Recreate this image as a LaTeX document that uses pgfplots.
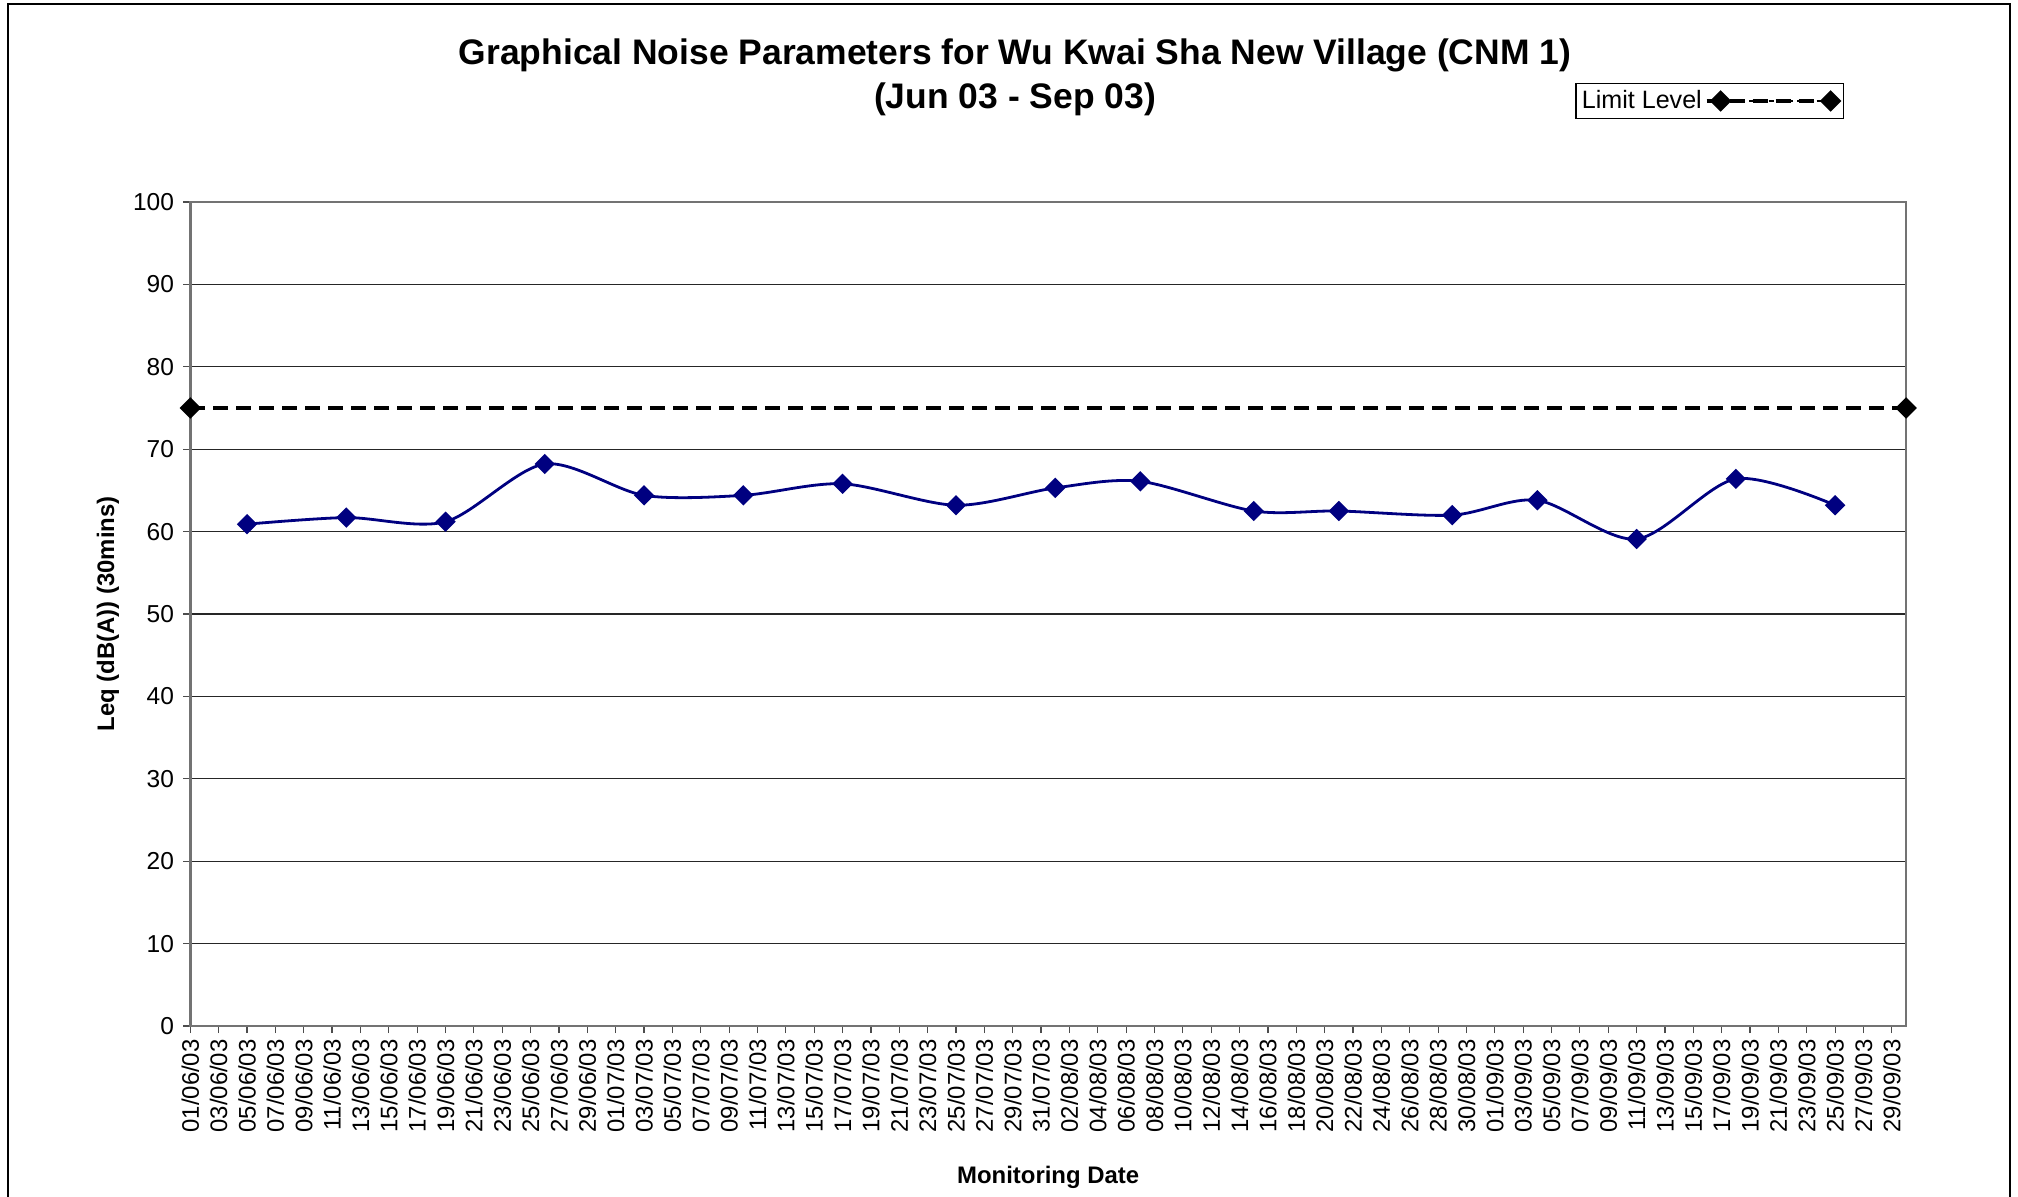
\documentclass[border=0pt]{standalone}
\usepackage{pgfplots}
\pgfplotsset{compat=1.18}
\usepackage{fontspec}
\setmainfont{Liberation Sans}
\setsansfont{Liberation Sans}
\definecolor{navyblue}{RGB}{0,0,128}
\begin{document}
\begin{tikzpicture}
\useasboundingbox (0bp,0bp) rectangle (1009bp,598.5bp);
\draw[black, line width=1bp] (4.2bp,-20bp) rectangle (1005bp,596.5bp);
\node[font=\bfseries\fontsize{17.8}{20}\selectfont] at (507.5bp,570.8bp) {Graphical Noise Parameters for Wu Kwai Sha New Village (CNM 1)};
\node[font=\bfseries\fontsize{17.8}{20}\selectfont] at (507.5bp,549bp) {(Jun 03 - Sep 03)};
\begin{axis}[
  at={(95.15bp,85.5bp)}, anchor=south west,
  scale only axis, width=857.85bp, height=412bp,
  xmin=0, xmax=121, ymin=0, ymax=100,
  clip=false,
  xtick={0,2,...,120},
  xticklabels={01/06/03,03/06/03,05/06/03,07/06/03,09/06/03,11/06/03,13/06/03,15/06/03,17/06/03,19/06/03,21/06/03,23/06/03,25/06/03,27/06/03,29/06/03,
  01/07/03,03/07/03,05/07/03,07/07/03,09/07/03,11/07/03,13/07/03,15/07/03,17/07/03,19/07/03,21/07/03,23/07/03,25/07/03,27/07/03,29/07/03,31/07/03,
  02/08/03,04/08/03,06/08/03,08/08/03,10/08/03,12/08/03,14/08/03,16/08/03,18/08/03,20/08/03,22/08/03,24/08/03,26/08/03,28/08/03,30/08/03,
  01/09/03,03/09/03,05/09/03,07/09/03,09/09/03,11/09/03,13/09/03,15/09/03,17/09/03,19/09/03,21/09/03,23/09/03,25/09/03,27/09/03,29/09/03},
  xticklabel style={rotate=90, anchor=east, font=\fontsize{12}{14}\selectfont, inner sep=3bp},
  ytick={0,10,...,100},
  yticklabel style={font=\fontsize{12.3}{14}\selectfont, inner sep=4.5bp},
  /pgf/number format/assume math mode=true,
  tick align=outside, tick pos=left, major tick length=3.5bp,
  tick style={black!70, line width=0.6bp},
  ymajorgrids, grid style={black!85, line width=0.6bp},
  axis line style={black!55, line width=1.2bp},
  xlabel={\bfseries Monitoring Date},
  ylabel={\bfseries Leq (dB(A)) (30mins)},
  every axis x label/.style={at={(axis description cs:0.5,-0.184)}, anchor=center, font=\fontsize{12}{14}\selectfont},
  every axis y label/.style={at={(axis description cs:-0.048,0.5)}, anchor=center, rotate=90, font=\fontsize{12}{14}\selectfont},
  legend style={at={(0.8071,1.1449)}, anchor=north west, draw=black, line width=0.8bp, fill=white,
    inner xsep=1.5bp, inner ysep=2bp, font=\fontsize{12.6}{14}\selectfont,
    nodes={inner sep=1.5bp}},
  legend plot pos=right,
  legend image code/.code={
    \draw[black, line width=0.6bp, dash pattern=on 2.6bp off 2.2bp] (7bp,0bp) -- (62bp,0bp);
    \draw plot[only marks, mark=square*, mark options={rotate=45, fill=black, draw=black, solid}, mark size=2.9bp] coordinates {(7bp,0bp) (62bp,0bp)};
    \path (0bp,0bp) -- (66bp,0bp);
  },
]
\addplot[navyblue, line width=1.4bp, smooth, tension=0.5, mark=square*, mark size=2.9bp,
  mark options={rotate=45, fill=navyblue, draw=navyblue, solid}, forget plot] coordinates {
  (4,60.9) (11,61.7) (18,61.2) (25,68.2) (32,64.4) (39,64.4) (46,65.8)
  (54,63.2) (61,65.3) (67,66.1) (75,62.5) (81,62.5) (89,62.0)
  (95,63.8) (102,59.1) (109,66.4) (116,63.2)
};
\addplot[black, line width=1.8bp, dash pattern=on 7.5bp off 4bp, mark=square*, mark size=2.9bp,
  mark options={rotate=45, fill=black, draw=black, solid}] coordinates {(0,75) (121,75)};
\addlegendentry{Limit Level}
\end{axis}
\end{tikzpicture}
\end{document}
